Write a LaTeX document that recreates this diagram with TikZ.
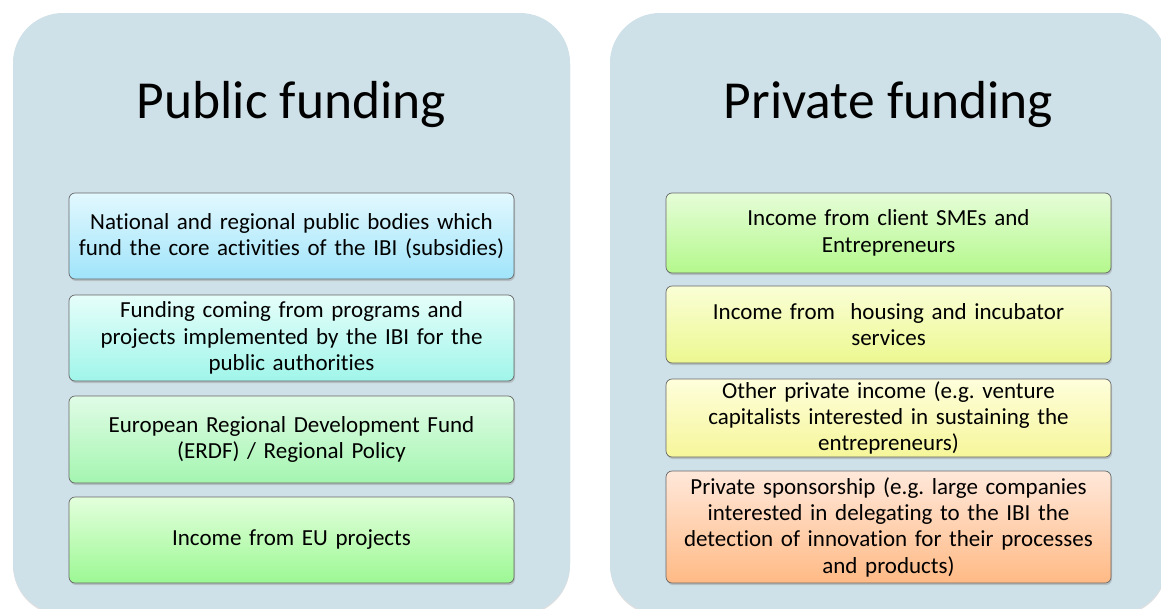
\documentclass[tikz,border=0pt]{standalone}
\usepackage{fontspec}
\setmainfont{Carlito}[Ligatures=NoCommon]
\frenchspacing
\usetikzlibrary{shadows}
\definecolor{panelbg}{RGB}{207,225,232}
\definecolor{pubAtop}{RGB}{226,248,254} \definecolor{pubAbot}{RGB}{160,228,250}
\definecolor{pubBtop}{RGB}{230,254,250} \definecolor{pubBbot}{RGB}{160,245,234}
\definecolor{pubCtop}{RGB}{224,252,230} \definecolor{pubCbot}{RGB}{164,245,176}
\definecolor{pubDtop}{RGB}{227,255,220} \definecolor{pubDbot}{RGB}{156,248,148}
\definecolor{privAtop}{RGB}{230,253,216} \definecolor{privAbot}{RGB}{180,248,140}
\definecolor{privBtop}{RGB}{250,254,214} \definecolor{privBbot}{RGB}{236,248,144}
\definecolor{privCtop}{RGB}{254,254,220} \definecolor{privCbot}{RGB}{246,246,154}
\definecolor{privDtop}{RGB}{255,232,218} \definecolor{privDbot}{RGB}{255,186,133}
\tikzset{
    panel/.style={fill=panelbg, rounded corners=50pt, drop shadow={shadow xshift=0pt, shadow yshift=-1.5pt, opacity=0.25}}, % 背景面板
    fundbox/.style 2 args={draw=black!60, line width=0.7pt, rounded corners=6pt, top color=#1, bottom color=#2,
        minimum width=445pt, text width=441pt, inner sep=0pt, align=center, font=\fontsize{23}{26.3}\selectfont,
        drop shadow={shadow xshift=1pt, shadow yshift=-2pt, opacity=0.35}}, % 资金来源方框
    paneltitle/.style={anchor=base, font=\fontsize{53.5}{60}\selectfont} % 面板标题
}
\begin{document}
\begin{tikzpicture}[x=1pt, y=-1pt]
    \useasboundingbox (0,0) rectangle (1161,608);
    \clip (0,0) rectangle (1161,608);
    \def\pubx{291.5} \def\privx{888.5}

    \fill[panel] (13,13) rectangle (570,614);
    \fill[panel] (610,13) rectangle (1167,614);

    \node[paneltitle] (pubtitle) at (\pubx,118) {Public funding};
    \node[paneltitle] (privtitle) at (\privx,118) {Private funding};

    \foreach \n/\y/\h/\c/\t in {
        pubA/236/86/pubA/{National and regional public bodies which\\fund the core activities of the IBI (subsidies)},
        pubB/338/86/pubB/{Funding coming from programs and\\projects implemented by the IBI for the\\public authorities},
        pubC/439.5/87/pubC/{European Regional Development Fund\\(ERDF) / Regional Policy},
        pubD/540/86/pubD/{Income from EU projects}}
        {\node[fundbox={\c top}{\c bot}, minimum height=\h pt] (\n) at (\pubx,\y) {\t};}

    \foreach \n/\y/\h/\c/\t in {
        privA/233/80/privA/{Income from client SMEs and\\Entrepreneurs},
        privB/324.5/77/privB/{Income from\ \ housing and incubator\\services},
        privC/418/78/privC/{Other private income (e.g. venture\\capitalists interested in sustaining the\\entrepreneurs)},
        privD/527/112/privD/{Private sponsorship (e.g. large companies\\interested in delegating to the IBI the\\detection of innovation for their processes\\and products)}}
        {\node[fundbox={\c top}{\c bot}, minimum height=\h pt] (\n) at (\privx,\y) {\t};}
\end{tikzpicture}
\end{document}
